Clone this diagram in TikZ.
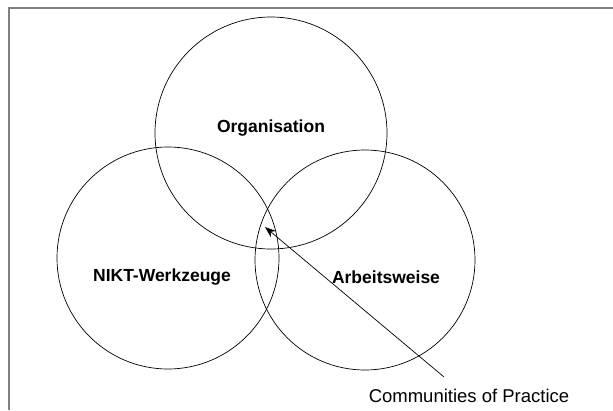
\documentclass[tikz,border=0pt]{standalone}
\usepackage{fontspec}
\setmainfont{Liberation Sans}
\usepackage{tikz}
\usetikzlibrary{arrows.meta}

\begin{document}
\begin{tikzpicture}[x=1pt,y=-1pt,>={Stealth[length=11pt,width=8pt]},line width=0.7pt]
\tikzstyle{set}=[circle,draw=black,fill=none,inner sep=0pt]
\tikzstyle{setlabel}=[font=\bfseries\fontsize{17.5}{22}\selectfont]
\tikzset{font=\fontsize{18.5}{22}\selectfont}

        \useasboundingbox (0,0) rectangle (613,410);
        \draw[gray, line width=1.3pt] (9,410) -- (9,8) -- (613,8);

        \node[set,minimum size=232pt]   (orga) at (271,133) {};
        \node[set,minimum size=222pt]   (nikt) at (168,258) {};
        \node[set,minimum size=220pt]   (arbw) at (365,260) {};

        \node[setlabel]   (orgal) at (271,128) {Organisation};
        \node[setlabel]   (niktl) at (162,277) {NIKT-Werkzeuge};
        \node[setlabel]   (arbwl) at (386,277) {Arbeitsweise};

        \node   (cop) at (469,396) {Communities of Practice};
        \coordinate (tip)  at (265,227);
        \coordinate (tail) at (444,377);

        \path[->]
        (tail)   edge node {}   (tip)
        ; %end path

\end{tikzpicture}
\end{document}
